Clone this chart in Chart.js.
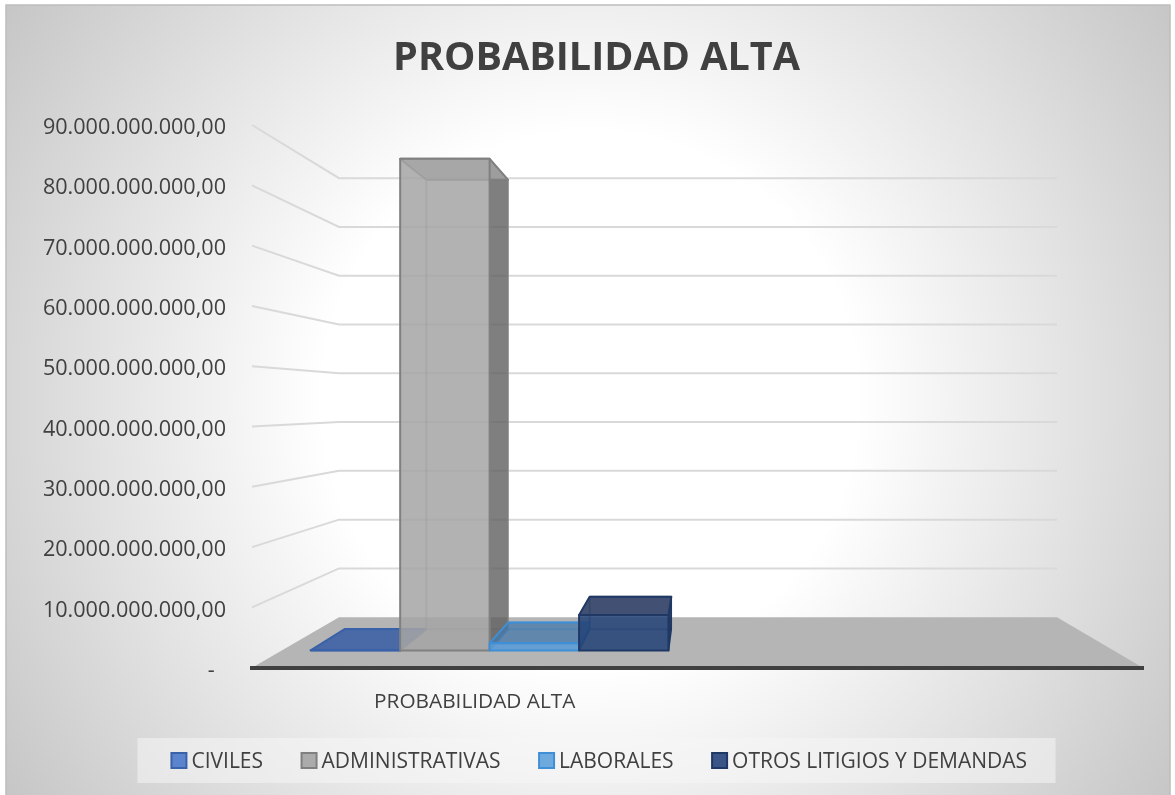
<!DOCTYPE html>
<html>
<head>
<meta charset="utf-8">
<title>PROBABILIDAD ALTA</title>
<script src="https://cdn.jsdelivr.net/npm/chart.js@4/dist/chart.umd.min.js"></script>
<style>
  html, body { margin: 0; padding: 0; background: #fff; overflow: hidden; }
  #wrap { position: relative; width: 1175px; height: 795px; }
</style>
</head>
<body>
<div id="wrap"><canvas id="chart"></canvas></div>
<script>
const categories = ['PROBABILIDAD ALTA', ''];
const seriesNames = ['CIVILES', 'ADMINISTRATIVAS', 'LABORALES', 'OTROS LITIGIOS Y DEMANDAS'];
const civiles = [50000000, null];
const administrativas = [87200000000, null];
const laborales = [1300000000, null];
const otros = [6300000000, null];
const allSeries = [civiles, administrativas, laborales, otros];

const yMax = 90000000000;
const yStep = 10000000000;

// face colours per series
const frontColors = ['rgba(68,114,196,0.85)', 'rgba(165,165,165,0.85)', 'rgba(91,155,213,0.9)', 'rgba(38,68,120,0.88)'];
const topColors = ['rgba(62,98,165,0.9)', 'rgba(165,165,165,0.8)', 'rgba(70,120,170,0.75)', 'rgba(45,62,100,0.9)'];
const sideColors = ['rgba(40,70,125,0.85)', 'rgba(95,95,95,0.8)', 'rgba(50,100,150,0.85)', 'rgba(25,45,85,0.9)'];
const edgeColors = ['#3a62a8', '#808080', '#3f8fd6', '#1f3864'];
const legendFill = ['#5b84cf', '#ababab', '#6eaade', '#3a5588'];

// floor / wall depth, front plane comes from the chart scales
const depth = { left: 87, right: 86, bottom: 50.5, shrink: 48.7 / 60.2, barFront: 0.34, barBack: 0.76 };

function backY(scaleY, value) {
  const front = scaleY.getPixelForValue(value);
  return scaleY.bottom - depth.bottom - (scaleY.bottom - front) * depth.shrink;
}

function project(chart, frac, value, t) {
  const sx = chart.scales.x, sy = chart.scales.y;
  const left = sx.left + depth.left * t;
  const right = sx.right - depth.right * t;
  const front = sy.getPixelForValue(value);
  return { x: left + frac * (right - left), y: front + (backY(sy, value) - front) * t };
}

function poly(ctx, pts, fill, stroke, lw) {
  ctx.beginPath();
  pts.forEach((p, i) => i ? ctx.lineTo(p.x, p.y) : ctx.moveTo(p.x, p.y));
  ctx.closePath();
  if (fill) { ctx.fillStyle = fill; ctx.fill(); }
  if (stroke) { ctx.strokeStyle = stroke; ctx.lineWidth = lw; ctx.stroke(); }
}

const scenePlugin = {
  id: 'scene',
  beforeDraw(chart) {
    const ctx = chart.ctx, sx = chart.scales.x, sy = chart.scales.y;
    // tick labels sit a little lower than the canvas middle baseline
    sy.getLabelItems(chart.chartArea).forEach(item => { item.textOffset = 3; });
    ctx.save();
    // plate
    const cx = 590, cy = 400;
    const grad = ctx.createRadialGradient(cx, cy, 0, cx, cy, 705);
    grad.addColorStop(0, '#ffffff');
    grad.addColorStop(0.38, '#ffffff');
    grad.addColorStop(1, '#c6c6c6');
    ctx.fillStyle = grad;
    ctx.fillRect(6, 5, 1164, 795);
    ctx.strokeStyle = '#bdbdbd';
    ctx.lineWidth = 1.5;
    ctx.strokeRect(6, 5, 1164, 795);

    // floor
    const b0 = backY(sy, 0);
    poly(ctx, [
      { x: sx.left, y: sy.bottom }, { x: sx.left + depth.left, y: b0 },
      { x: sx.right - depth.right, y: b0 }, { x: sx.right, y: sy.bottom }
    ], '#b5b5b5');

    // side and back wall grid
    ctx.strokeStyle = '#d9d9d9';
    ctx.lineWidth = 2;
    sy.ticks.forEach(tick => {
      if (tick.value === 0) return;
      const yb = backY(sy, tick.value);
      ctx.beginPath();
      ctx.moveTo(sx.left, sy.getPixelForValue(tick.value));
      ctx.lineTo(sx.left + depth.left, yb);
      ctx.lineTo(sx.right - depth.right, yb);
      ctx.stroke();
    });

    // legend plate and swatches
    const hit = chart.legend.legendHitBoxes;
    if (hit && hit.length) {
      const last = hit[hit.length - 1];
      ctx.fillStyle = 'rgba(245,245,245,0.55)';
      ctx.fillRect(hit[0].left - 28.5, chart.legend.bottom - 45, last.left + last.width - hit[0].left + 57, 45);
      hit.forEach((h, i) => {
        const y = chart.legend.bottom - 22.5 - 7.5;
        ctx.fillStyle = legendFill[i];
        ctx.strokeStyle = edgeColors[i];
        ctx.lineWidth = 2;
        ctx.fillRect(h.left + 5.5, y, 15, 15);
        ctx.strokeRect(h.left + 5.5, y, 15, 15);
      });
    }
    ctx.restore();
  },
  afterDatasetsDraw(chart) {
    const ctx = chart.ctx, sx = chart.scales.x;
    ctx.save();
    ctx.lineJoin = 'round';
    chart.data.datasets.forEach((ds, i) => {
      const el = chart.getDatasetMeta(i).data[0];
      const value = allSeries[i][0];
      const f0 = (el.x - el.width / 2 - sx.left) / sx.width;
      const f1 = (el.x + el.width / 2 - sx.left) / sx.width;
      const pt = (f, v, t) => project(chart, f, v, t);
      const tf = depth.barFront, tb = depth.barBack;
      const fbl = pt(f0, 0, tf), fbr = pt(f1, 0, tf), ftl = pt(f0, value, tf), ftr = pt(f1, value, tf);
      const bbl = pt(f0, 0, tb), bbr = pt(f1, 0, tb), btl = pt(f0, value, tb), btr = pt(f1, value, tb);
      // hidden edges first, they show through the faces
      ctx.strokeStyle = edgeColors[i];
      ctx.lineWidth = 2;
      ctx.globalAlpha = 0.5;
      ctx.beginPath();
      ctx.moveTo(btl.x, btl.y); ctx.lineTo(bbl.x, bbl.y); ctx.lineTo(bbr.x, bbr.y);
      ctx.moveTo(bbl.x, bbl.y); ctx.lineTo(fbl.x, fbl.y);
      ctx.moveTo(btl.x, btl.y); ctx.lineTo(btr.x, btr.y);
      ctx.stroke();
      ctx.globalAlpha = 1;
      poly(ctx, [fbr, bbr, btr, ftr], sideColors[i], edgeColors[i], 1.5);
      poly(ctx, [ftl, ftr, btr, btl], topColors[i], edgeColors[i], 2);
      poly(ctx, [fbl, fbr, ftr, ftl], frontColors[i], edgeColors[i], 2);
    });
    ctx.restore();
  }
};

const canvas = document.getElementById('chart');
new Chart(canvas, {
  type: 'bar',
  data: {
    labels: categories,
    datasets: seriesNames.map((name, i) => ({
      label: name,
      data: allSeries[i],
      backgroundColor: 'rgba(0,0,0,0)',
      borderWidth: 0,
      categoryPercentage: 0.86,
      barPercentage: 1
    }))
  },
  options: {
    responsive: true,
    maintainAspectRatio: false,
    animation: false,
    layout: { padding: { left: 18, right: 0, top: 5, bottom: 12 } },
    plugins: {
      tooltip: { enabled: false },
      title: {
        display: true,
        text: 'PROBABILIDAD ALTA',
        color: '#404040',
        font: { family: '"Open Sans"', size: 39.5, weight: 'bold' },
        padding: { top: 30, bottom: 42.6 }
      },
      legend: {
        position: 'bottom',
        onClick: null,
        labels: {
          color: '#404040',
          font: { family: '"Open Sans"', size: 21 },
          boxWidth: 15,
          boxHeight: 15,
          padding: 33,
          generateLabels: () => seriesNames.map((name, i) => ({
            text: name,
            fillStyle: 'rgba(0,0,0,0)',
            strokeStyle: 'rgba(0,0,0,0)',
            lineWidth: 0,
            fontColor: '#404040',
            datasetIndex: i
          }))
        }
      }
    },
    scales: {
      x: {
        grid: { display: false },
        border: { display: true, color: '#404040', width: 4 },
        ticks: { color: '#404040', font: { family: '"Open Sans"', size: 20.8 }, padding: 14, maxRotation: 0, autoSkip: false },
        afterFit: s => { s.height = 51.3; }
      },
      y: {
        min: 0,
        max: yMax,
        grid: { display: false, drawTicks: false },
        border: { display: false },
        ticks: {
          stepSize: yStep,
          color: '#404040',
          font: { family: '"Open Sans"', size: 21.6 },
          padding: 26,
          callback: v => v === 0 ? '-  ' : v.toLocaleString('de-DE', { minimumFractionDigits: 2, maximumFractionDigits: 2 })
        },
        afterFit: s => { s.width = 234; }
      },
      // keeps the plot short of the right edge without moving title and legend
      rightGap: {
        type: 'linear',
        position: 'right',
        grid: { display: false },
        border: { display: false },
        ticks: { display: false },
        afterFit: s => { s.width = 32; }
      }
    }
  },
  plugins: [scenePlugin]
});
</script>
</body>
</html>
